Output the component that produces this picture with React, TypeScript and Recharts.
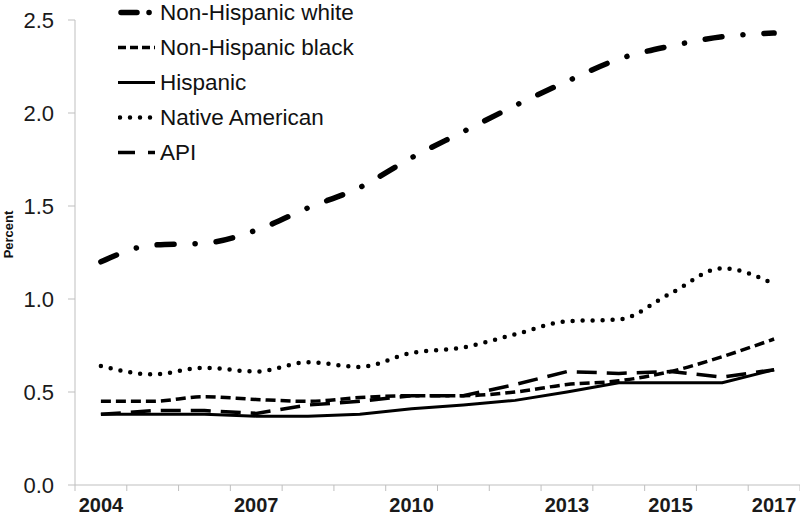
import React from 'react';
import { LineChart, Line, XAxis, YAxis, Legend } from 'recharts';

const years = [2004, 2005, 2006, 2007, 2008, 2009, 2010, 2011, 2012, 2013, 2014, 2015, 2016, 2017];
const nhWhite = [1.20, 1.29, 1.30, 1.37, 1.49, 1.60, 1.76, 1.90, 2.04, 2.17, 2.29, 2.36, 2.41, 2.43];
const nhBlack = [0.45, 0.45, 0.475, 0.46, 0.45, 0.47, 0.48, 0.48, 0.50, 0.54, 0.56, 0.61, 0.69, 0.785];
const hispanic = [0.38, 0.38, 0.38, 0.37, 0.37, 0.38, 0.41, 0.43, 0.455, 0.50, 0.55, 0.55, 0.55, 0.62];
const nativeAm = [0.64, 0.595, 0.63, 0.61, 0.66, 0.635, 0.71, 0.74, 0.81, 0.88, 0.89, 1.03, 1.165, 1.08];
const api = [0.38, 0.40, 0.40, 0.385, 0.43, 0.45, 0.48, 0.48, 0.54, 0.61, 0.60, 0.61, 0.58, 0.62];

const labeledYears = [2004, 2007, 2010, 2013, 2015, 2017];
const yTicks = [0, 0.5, 1.0, 1.5, 2.0, 2.5];
const seriesNames = ['Non-Hispanic white', 'Non-Hispanic black', 'Hispanic', 'Native American', 'API'];

const data = years.map((y, i) => ({
  year: y,
  white: nhWhite[i],
  black: nhBlack[i],
  hisp: hispanic[i],
  native: nativeAm[i],
  api: api[i],
}));

const boundaries = [...years.map((y) => y - 0.5), years[years.length - 1] + 0.5];
const xTicks = [...boundaries, ...labeledYears].sort((a, b) => a - b);

const FONT = '"Liberation Sans", Arial, Helvetica, sans-serif';

const styles = [
  { key: 'white', width: 5.5, cap: 'round', legendDash: '16 12 0.1 20', lx1: 3 },
  { key: 'black', width: 3.5, cap: 'butt', legendDash: '8 4', lx1: 0 },
  { key: 'hisp', width: 3, cap: 'butt', legendDash: undefined, lx1: 0 },
  { key: 'native', width: 4.5, cap: 'round', legendDash: '0 10', lx1: 2 },
  { key: 'api', width: 3.5, cap: 'butt', legendDash: '17 13', lx1: 0 },
];

const XTick = (props: any) => {
  const { x, y, payload } = props;
  const v = payload.value;
  if (Math.abs(v % 1) > 0.01) {
    return <line x1={x} y1={y - 6} x2={x} y2={y} stroke="#bfbfbf" strokeWidth={1} />;
  }
  return (
    <text x={x} y={y + 21} textAnchor="middle" fontFamily={FONT} fontWeight="bold" fontSize={20} fill="#1a1a1a">
      {v}
    </text>
  );
};

const renderLegend = () => (
  <div style={{ fontFamily: FONT, fontSize: 22.5, color: '#111' }}>
    {seriesNames.map((name, i) => {
      const s = styles[i];
      return (
        <div key={name} style={{ display: 'flex', alignItems: 'center', height: 35 }}>
          <svg width={40} height={35} style={{ display: 'block' }}>
            <line
              x1={s.lx1}
              y1={17.5}
              x2={37}
              y2={17.5}
              stroke="#000"
              strokeWidth={s.width}
              strokeDasharray={s.legendDash}
              strokeLinecap={s.cap as any}
            />
          </svg>
          <span style={{ marginLeft: 2, whiteSpace: 'nowrap', lineHeight: '26px' }}>{name}</span>
        </div>
      );
    })}
  </div>
);

const YLabel = (props: any) => {
  const vb = props.viewBox || {};
  const cy = (vb.y ?? 20) + (vb.height ?? 465) / 2 - 18;
  return (
    <text
      x={13}
      y={cy}
      transform={`rotate(-90, 13, ${cy})`}
      textAnchor="middle"
      fontFamily={FONT}
      fontWeight="bold"
      fontSize={13}
      fill="#111"
    >
      Percent
    </text>
  );
};

export default function App() {
  return (
    <div style={{ position: 'absolute', left: 0, top: 0, background: '#fff' }}>
      <LineChart width={800} height={517} data={data} margin={{ top: 20, right: 0, bottom: 0, left: 0 }}>
        <XAxis
          dataKey="year"
          type="number"
          domain={[2003.5, 2017.5]}
          ticks={xTicks}
          interval={0}
          tick={<XTick />}
          tickLine={false}
          tickSize={6}
          tickMargin={0}
          height={32}
          axisLine={{ stroke: '#bfbfbf', strokeWidth: 1 }}
        />
        <YAxis
          type="number"
          domain={[0, 2.5]}
          ticks={yTicks}
          width={75}
          tickFormatter={(v: number) => v.toFixed(1)}
          tick={{ fontFamily: FONT, fontSize: 22, fill: '#1a1a1a' }}
          tickLine={{ stroke: '#bfbfbf' }}
          tickSize={7}
          tickMargin={14}
          axisLine={{ stroke: '#bfbfbf', strokeWidth: 1 }}
          label={<YLabel />}
        />
        <Legend
          layout="vertical"
          align="center"
          verticalAlign="middle"
          content={renderLegend}
          wrapperStyle={{ left: 118, top: -5, width: 'auto', height: 'auto' }}
        />
        <Line dataKey="hisp" name={seriesNames[2]} type="linear" stroke="#000" strokeWidth={3} dot={false} isAnimationActive={false} />
        <Line dataKey="api" name={seriesNames[4]} type="linear" stroke="#000" strokeWidth={3.5} strokeDasharray="20 10" dot={false} isAnimationActive={false} />
        <Line dataKey="black" name={seriesNames[1]} type="monotone" stroke="#000" strokeWidth={3.5} strokeDasharray="10 5" dot={false} isAnimationActive={false} />
        <Line dataKey="native" name={seriesNames[3]} type="monotone" stroke="#000" strokeWidth={4.5} strokeDasharray="0 10" strokeLinecap="round" dot={false} isAnimationActive={false} />
        <Line dataKey="white" name={seriesNames[0]} type="monotone" stroke="#000" strokeWidth={5.5} strokeDasharray="17 21 0.1 21" strokeLinecap="round" dot={false} isAnimationActive={false} />
      </LineChart>
    </div>
  );
}
